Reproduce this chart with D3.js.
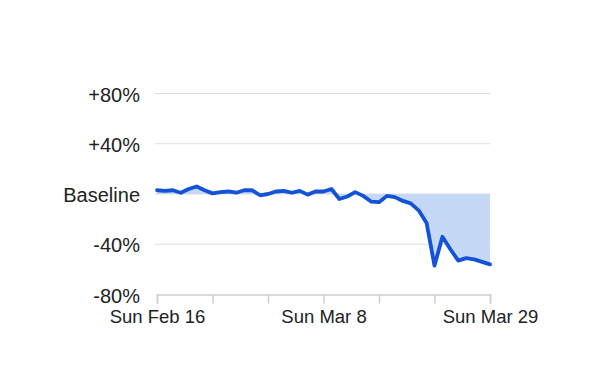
<!DOCTYPE html>
<html>
<head>
<meta charset="utf-8">
<script src="https://cdn.jsdelivr.net/npm/d3@7"></script>
<style>
  html, body { margin: 0; padding: 0; background: #fff; }
  svg { display: block; }
  text { font-family: "Liberation Sans", Arial, Helvetica, sans-serif; fill: #222; }
</style>
</head>
<body>
<svg id="chart" width="610" height="382"></svg>
<script>
// ---- Data ----
const startDate = "2020-02-16";
const values = [3, 2.5, 3, 1, 4, 6, 3, 0.5, 1.5, 2, 1, 3, 3, -1, 0,
                2, 2.5, 1, 2.5, -0.5, 2, 2, 4, -4, -2, 1.5, -1.5, -6, -6.5,
                -1.5, -2.5, -5.5, -7.5, -13, -23, -57, -34, -44, -53, -51, -52, -54, -56];
const yTickValues = [80, 40, 0, -40, -80];
const yTickLabels = ["+80%", "+40%", "Baseline", "-40%", "-80%"];
const xTickDates = ["2020-02-16", "2020-02-23", "2020-03-01", "2020-03-08", "2020-03-15", "2020-03-22", "2020-03-29"];
const xTickLabels = ["Sun Feb 16", "", "", "Sun Mar 8", "", "", "Sun Mar 29"];

// ---- Build ----
const parse = d3.timeParse("%Y-%m-%d");
const t0 = parse(startDate);
const data = values.map((v, i) => ({ date: d3.timeDay.offset(t0, i), value: v }));

const svg = d3.select("#chart");
const x = d3.scaleTime()
  .domain([data[0].date, data[data.length - 1].date])
  .range([157, 490]);
const y = d3.scaleLinear().domain([-80, 80]).range([294.5, 93.5]);

// gridlines
svg.append("g").selectAll("line")
  .data(yTickValues.filter(v => v !== -80))
  .join("line")
  .attr("x1", 155).attr("x2", 490.5)
  .attr("y1", d => y(d)).attr("y2", d => y(d))
  .attr("stroke", "#dedede").attr("stroke-width", 1.2);

// area
const area = d3.area()
  .x(d => x(d.date))
  .y0(y(0))
  .y1(d => y(d.value));
svg.append("path")
  .datum(data)
  .attr("d", area)
  .attr("fill", "#c5d8f6");

// x axis
const xTicks = xTickDates.map(parse);
const xAxis = d3.axisBottom(x)
  .tickValues(xTicks)
  .tickSize(9)
  .tickPadding(6)
  .tickFormat((d, i) => xTickLabels[i]);
const gx = svg.append("g")
  .attr("transform", `translate(0,${y(-80)})`)
  .call(xAxis);
gx.select(".domain").attr("stroke", "#cfcfcf").attr("stroke-width", 1.5);
gx.selectAll(".tick line").attr("stroke", "#cfcfcf").attr("stroke-width", 1.5);
gx.selectAll(".tick text")
  .attr("font-size", 18.5)
  .attr("fill", "#222")
  .attr("dy", 0)
  .attr("y", 28.5)
  .style("font-family", '"Liberation Sans", Arial, sans-serif');

// line
const line = d3.line()
  .x(d => x(d.date))
  .y(d => y(d.value));
svg.append("path")
  .datum(data)
  .attr("d", line)
  .attr("fill", "none")
  .attr("stroke", "#1452d9")
  .attr("stroke-width", 3.8)
  .attr("stroke-linejoin", "round")
  .attr("stroke-linecap", "round");

// y labels
svg.append("g").selectAll("text")
  .data(yTickValues)
  .join("text")
  .attr("x", 140)
  .attr("y", d => y(d) + 8)
  .attr("text-anchor", "end")
  .attr("font-size", 20)
  .text((d, i) => yTickLabels[i]);
</script>
</body>
</html>
